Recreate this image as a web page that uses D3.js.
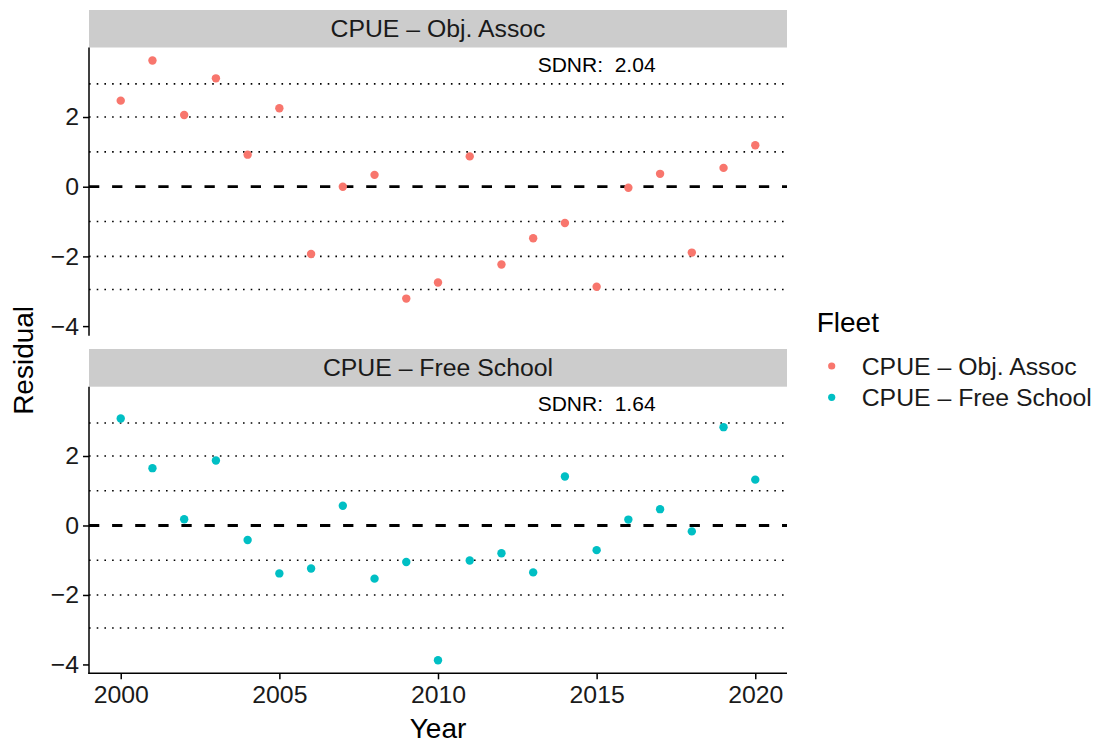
<!DOCTYPE html>
<html>
<head>
<meta charset="utf-8">
<script src="https://cdn.jsdelivr.net/npm/d3@7"></script>
<style>
  body { margin: 0; background: #fff; }
  svg { display: block; font-family: "Liberation Sans", Arial, sans-serif; }
  .tick-label { font-size: 24.8px; fill: #1a1a1a; font-family: "Liberation Sans", Arial, sans-serif; }
  .axis-title { font-size: 28px; fill: #000; }
  .strip-text { font-size: 24.8px; fill: #1a1a1a; }
  .sdnr { font-size: 21px; fill: #000; white-space: pre; }
</style>
</head>
<body>
<div id="chart"></div>
<script>
(() => {
  const years = d3.range(2000, 2021);
  const fleets = ['CPUE – Obj. Assoc', 'CPUE – Free School'];
  const fleetColors = ['#F8766D', '#00BFC4'];
  const sdnrValues = ['2.04', '1.64'];

  const objAssocResid = [2.47, 3.62, 2.06, 3.11, 0.92, 2.25, -1.93, 0.0, 0.34, -3.21,
    -2.75, 0.87, -2.23, -1.48, -1.04, -2.87, -0.03, 0.37, -1.89, 0.54, 1.19];
  const freeSchoolResid = [3.08, 1.65, 0.18, 1.87, -0.42, -1.38, -1.24, 0.57, -1.53, -1.05,
    -3.88, -1.01, -0.80, -1.35, 1.41, -0.71, 0.17, 0.47, -0.17, 2.83, 1.32];
  const residSeries = [objAssocResid, freeSchoolResid];

  const dottedLevels = [-2.95, -2, -1, 1, 2, 2.95];
  const yTicks = [-4, -2, 0, 2];
  const xTicks = [2000, 2005, 2010, 2015, 2020];

  const width = 1102;
  const height = 744;
  const plotLeft = 89;
  const plotRight = 787;
  const panels = [
    { stripTop: 10, top: 47.5, bottom: 335 },
    { stripTop: 349, top: 386.7, bottom: 673.3 }
  ];

  const svg = d3.select('#chart').append('svg')
    .attr('width', width)
    .attr('height', height);

  // x scale shared, 5% expansion like ggplot
  const xMin = d3.min(years), xMax = d3.max(years);
  const xPad = (xMax - xMin) * 0.05;
  const x = d3.scaleLinear()
    .domain([xMin - xPad, xMax + xPad])
    .range([plotLeft, plotRight]);

  const allResid = residSeries.flat();
  const yLo = d3.min(allResid), yHi = d3.max(allResid);
  const yPad = (yHi - yLo) * 0.05;

  panels.forEach((p, i) => {
    const y = d3.scaleLinear()
      .domain([yLo - yPad, yHi + yPad])
      .range([p.bottom, p.top]);

    // strip
    svg.append('rect')
      .attr('x', plotLeft)
      .attr('y', p.stripTop)
      .attr('width', plotRight - plotLeft)
      .attr('height', p.top - p.stripTop)
      .attr('fill', '#CCCCCC');

    svg.append('text')
      .attr('class', 'strip-text')
      .attr('x', (plotLeft + plotRight) / 2)
      .attr('y', (p.stripTop + p.top) / 2)
      .attr('text-anchor', 'middle')
      .attr('dominant-baseline', 'central')
      .text(fleets[i]);

    const g = svg.append('g');

    g.selectAll('.dotted')
      .data(dottedLevels)
      .join('line')
      .attr('x1', plotLeft)
      .attr('x2', plotRight)
      .attr('y1', d => y(d))
      .attr('y2', d => y(d))
      .attr('stroke', '#000')
      .attr('stroke-width', 1.6)
      .attr('stroke-dasharray', '1.6 6.1');

    g.append('line')
      .attr('x1', plotLeft)
      .attr('x2', plotRight)
      .attr('y1', y(0))
      .attr('y2', y(0))
      .attr('stroke', '#000')
      .attr('stroke-width', 2.8)
      .attr('stroke-dasharray', '10.3 12.8');

    g.selectAll('circle')
      .data(years.map((yr, k) => ({ yr, v: residSeries[i][k] })))
      .join('circle')
      .attr('cx', d => x(d.yr))
      .attr('cy', d => y(d.v))
      .attr('r', 4.2)
      .attr('fill', fleetColors[i]);

    g.append('text')
      .attr('class', 'sdnr')
      .attr('x', x(2015))
      .attr('y', y(3.5))
      .attr('text-anchor', 'middle')
      .attr('dominant-baseline', 'central')
      .text('SDNR:  ' + sdnrValues[i]);

    // y axis
    const yAxis = d3.axisLeft(y)
      .tickValues(yTicks)
      .tickSize(6)
      .tickPadding(4)
      .tickFormat(d => d3.format('d')(d).replace('-', '−'));

    svg.append('g')
      .attr('transform', `translate(${plotLeft},0)`)
      .call(yAxis)
      .call(a => a.select('.domain').attr('stroke-width', 1.5).attr('d', `M0,${p.top}V${p.bottom + 0.7}`))
      .call(a => a.selectAll('.tick line').attr('stroke-width', 1.5))
      .call(a => a.selectAll('.tick text').attr('class', 'tick-label'));
  });

  // x axis under bottom panel
  const last = panels[panels.length - 1];
  const xAxis = d3.axisBottom(x)
    .tickValues(xTicks)
    .tickSize(6)
    .tickPadding(6)
    .tickFormat(d3.format('d'));

  svg.append('g')
    .attr('transform', `translate(0,${last.bottom})`)
    .call(xAxis)
    .call(a => a.select('.domain').attr('stroke-width', 1.5).attr('d', `M${plotLeft - 0.7},0H${plotRight}`))
    .call(a => a.selectAll('.tick line').attr('stroke-width', 1.5))
    .call(a => a.selectAll('.tick text').attr('class', 'tick-label'));

  svg.append('text')
    .attr('class', 'axis-title')
    .attr('x', (plotLeft + plotRight) / 2)
    .attr('y', 738)
    .attr('text-anchor', 'middle')
    .text('Year');

  svg.append('text')
    .attr('class', 'axis-title')
    .attr('transform', `translate(33, ${(panels[0].top + last.bottom) / 2}) rotate(-90)`)
    .attr('text-anchor', 'middle')
    .text('Residual');

  // legend
  const legend = svg.append('g');
  legend.append('text')
    .attr('class', 'axis-title')
    .attr('x', 816.7)
    .attr('y', 331.5)
    .text('Fleet');

  const legendRows = [366, 397.3];
  fleets.forEach((name, i) => {
    legend.append('circle')
      .attr('cx', 831.7)
      .attr('cy', legendRows[i])
      .attr('r', 3.6)
      .attr('fill', fleetColors[i]);
    legend.append('text')
      .attr('class', 'tick-label')
      .attr('x', 861.7)
      .attr('y', legendRows[i])
      .attr('dominant-baseline', 'central')
      .text(name);
  });
})();
</script>
</body>
</html>
